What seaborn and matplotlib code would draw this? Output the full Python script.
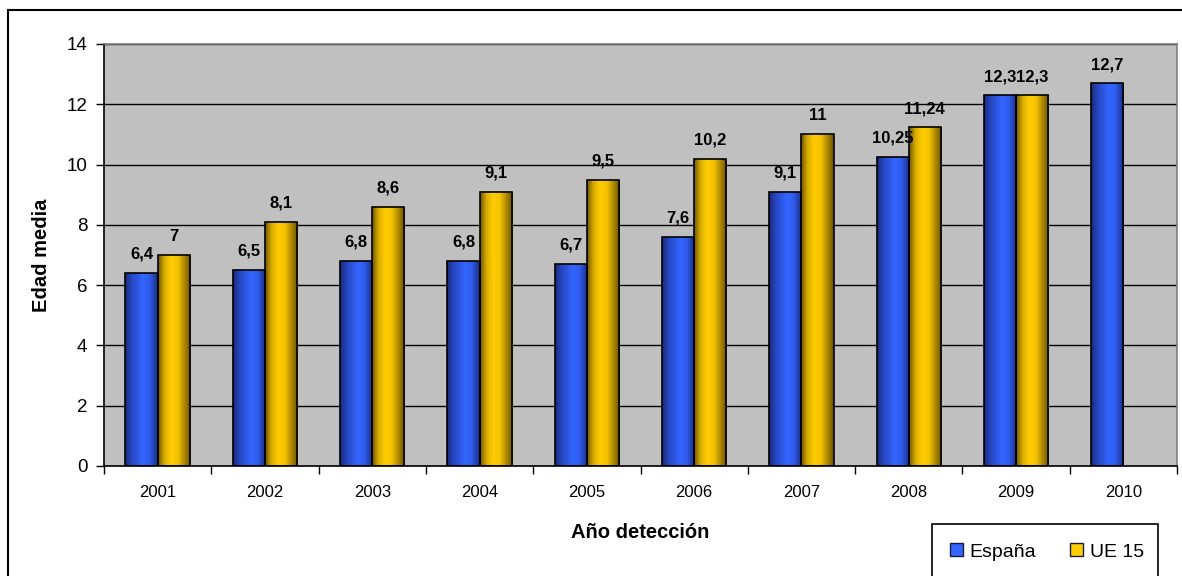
#Edad media por año de detección: España vs UE 15

#Import the libraries
import numpy as np
import pandas as pd
import matplotlib
matplotlib.use('Agg')
import matplotlib.pyplot as plt
import seaborn as sns
from matplotlib.patches import Rectangle, Patch
from matplotlib.colors import LinearSegmentedColormap

#Data
years = ['2001', '2002', '2003', '2004', '2005', '2006', '2007', '2008', '2009', '2010']
espana = [6.4, 6.5, 6.8, 6.8, 6.7, 7.6, 9.1, 10.25, 12.3, 12.7]
ue15 = [7, 8.1, 8.6, 9.1, 9.5, 10.2, 11, 11.24, 12.3, np.nan]
series_names = ['España', 'UE 15']
yticks = [0, 2, 4, 6, 8, 10, 12, 14]

#Long form table for seaborn
df = pd.DataFrame({
    'year': years * 2,
    'value': espana + ue15,
    'serie': [series_names[0]] * len(years) + [series_names[1]] * len(years),
})

sns.set_style('white')
plt.rcParams['font.family'] = ['Liberation Sans', 'DejaVu Sans']
plt.rcParams['text.color'] = 'black'
plt.rcParams['axes.labelcolor'] = 'black'
plt.rcParams['xtick.color'] = 'black'
plt.rcParams['ytick.color'] = 'black'

fig = plt.figure(figsize=(11.82, 5.76), dpi=100)
ax = fig.add_axes([104 / 1182, 1 - 466 / 576, (1177 - 104) / 1182, (466 - 44) / 576])

palette = {'España': '#3366ff', 'UE 15': '#ffcc00'}
sns.barplot(data=df, x='year', y='value', hue='serie', order=years,
            hue_order=series_names, palette=palette, width=0.6, gap=0,
            edgecolor='black', linewidth=1.2, errorbar=None, legend=False, ax=ax)

ax.set_xlim(-0.5, len(years) - 0.5)
ax.set_ylim(0, 14)

#Excel-like shaded bars
blue_map = LinearSegmentedColormap.from_list('b', [
    (0.0, '#1a2a78'), (0.2, '#2646c0'), (0.55, '#3366ff'), (0.75, '#2f5cec'), (1.0, '#1a2c80')])
gold_map = LinearSegmentedColormap.from_list('g', [
    (0.0, '#6e5400'), (0.2, '#d9ad00'), (0.4, '#ffcc00'), (0.6, '#f5c400'), (1.0, '#6a5000')])
grad = np.linspace(0, 1, 256).reshape(1, -1)
for cont, cmap in zip(ax.containers, [blue_map, gold_map]):
    for p in cont.patches:
        h = p.get_height()
        if not np.isfinite(h) or h == 0:
            continue
        x0 = p.get_x()
        w = p.get_width()
        im = ax.imshow(grad, cmap=cmap, extent=[x0, x0 + w, 0, h],
                       aspect='auto', zorder=p.get_zorder() + 0.1, interpolation='bilinear')
        im.set_clip_path(p)
        p.set_facecolor('none')
        p.set_zorder(p.get_zorder() + 0.2)
    labels = []
    for p in cont.patches:
        h = p.get_height()
        labels.append(f'{h:g}'.replace('.', ',') if np.isfinite(h) and h > 0 else '')
    ax.bar_label(cont, labels=labels, padding=8, fontsize=12, fontweight='bold',
                 color='black', zorder=5)

ax.set_xlim(-0.5, len(years) - 0.5)
ax.set_ylim(0, 14)

#Plot area styling
ax.set_facecolor('#c0c0c0')
ax.set_axisbelow(True)
ax.yaxis.grid(True, color='black', linewidth=1)
ax.xaxis.grid(False)
ax.set_yticks(yticks)
ax.tick_params(axis='y', which='major', direction='out', length=6, width=1,
               color='black', labelsize=13.5, pad=6, left=True)
ax.set_xticks(np.arange(len(years) + 1) - 0.5)
ax.set_xticklabels([])
ax.set_xticks(np.arange(len(years)), minor=True)
ax.set_xticklabels(years, minor=True)
ax.tick_params(axis='x', which='major', direction='out', length=6, width=1,
               color='black', bottom=True)
ax.tick_params(axis='x', which='minor', length=0, labelsize=12, pad=14)
for side in ['left', 'bottom']:
    ax.spines[side].set_color('black')
    ax.spines[side].set_linewidth(1.2)
for side in ['top', 'right']:
    ax.spines[side].set_color('#808080')
    ax.spines[side].set_linewidth(1.2)

ax.set_xlabel('Año detección', fontsize=14.5, fontweight='bold')
ax.set_ylabel('Edad media', fontsize=14.5, fontweight='bold')
ax.xaxis.set_label_coords(0.5, -0.135)
ax.yaxis.set_label_coords(-0.049, 0.5)

#Legend with its own box
handles = [Patch(facecolor=palette[s], edgecolor='#1a1a40', linewidth=1) for s in series_names]
fig.legend(handles, series_names, loc='center left', bbox_to_anchor=(950 / 1182, 1 - 552 / 576),
           ncol=2, frameon=False, fontsize=14, handlelength=0.65, handleheight=0.65,
           handletextpad=0.35, columnspacing=1.75, borderpad=0, borderaxespad=0)
fig.patches.append(Rectangle((932 / 1182, -0.05), (1158 - 932) / 1182, (576 - 524) / 576 + 0.05,
                             transform=fig.transFigure, fill=False, edgecolor='black', linewidth=1.2))

#Outer chart border
fig.patches.append(Rectangle((8 / 1182, -0.05), 1.1, 1 - 10 / 576 + 0.05,
                             transform=fig.transFigure, fill=False, edgecolor='black', linewidth=1.5))

plt.savefig('out.png', dpi=100)
